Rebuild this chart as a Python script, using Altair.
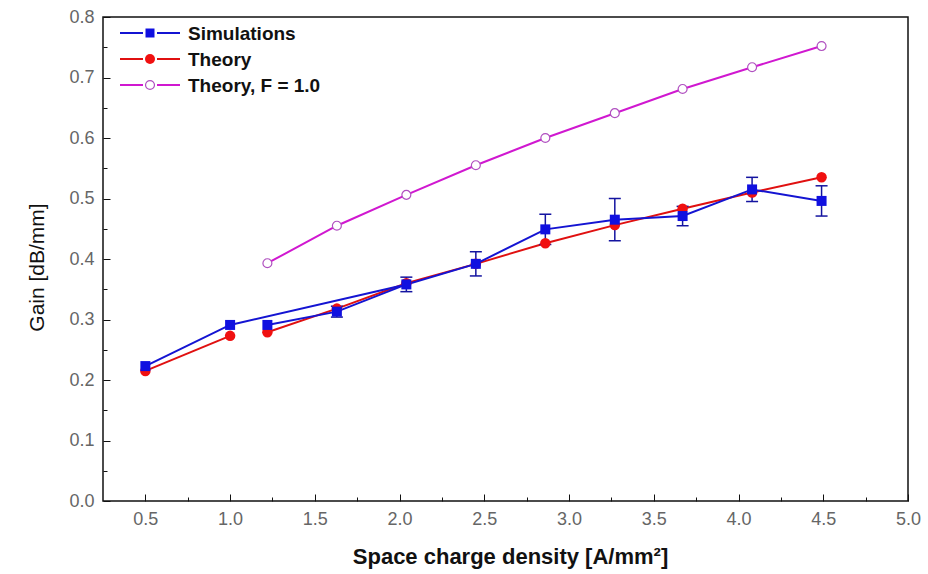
import altair as alt
import pandas as pd

# ---- data ----
x_points = [0.5, 1.0, 1.22, 1.63, 2.04, 2.45, 2.86, 3.27, 3.67, 4.08, 4.49]
sim_gain = [0.223, 0.291, 0.291, 0.313, 0.358, 0.392, 0.449, 0.465, 0.471, 0.515, 0.496]
sim_err = [None, None, None, 0.009, 0.012, 0.020, 0.025, 0.035, 0.016, 0.020, 0.025]
theory_gain = [0.215, 0.273, 0.279, 0.318, 0.360, 0.392, 0.426, 0.456, 0.483, 0.510, 0.535]
f1_x = [1.22, 1.63, 2.04, 2.45, 2.86, 3.27, 3.67, 4.08, 4.49]
f1_gain = [0.393, 0.455, 0.506, 0.555, 0.600, 0.641, 0.681, 0.717, 0.752]

# connection order of the plotted curves (indices into x_points)
sim_paths = [[0, 1, 4, 5, 6, 7, 8, 9, 10], [2, 3, 4]]
theory_paths = [[0, 1], [2, 3, 4, 5, 6, 7, 8, 9, 10]]

series_names = ["Simulations", "Theory", "Theory, F = 1.0"]
series_colors = ["#1414d2", "#e01010", "#d018d0"]

x_major = [0.5, 1.0, 1.5, 2.0, 2.5, 3.0, 3.5, 4.0, 4.5, 5.0]
x_minor = [0.75, 1.25, 1.75, 2.25, 2.75, 3.25, 3.75, 4.25, 4.75]
y_major = [0.0, 0.1, 0.2, 0.3, 0.4, 0.5, 0.6, 0.7, 0.8]
y_minor = [0.05, 0.15, 0.25, 0.35, 0.45, 0.55, 0.65, 0.75]

# ---- tables ----
line_rows = []
for pid, path in enumerate(sim_paths):
    for k, i in enumerate(path):
        line_rows.append({"series": "Simulations", "path": f"s{pid}", "order": k,
                          "x": x_points[i], "y": sim_gain[i]})
for pid, path in enumerate(theory_paths):
    for k, i in enumerate(path):
        line_rows.append({"series": "Theory", "path": f"t{pid}", "order": k,
                          "x": x_points[i], "y": theory_gain[i]})
for k, (xv, yv) in enumerate(zip(f1_x, f1_gain)):
    line_rows.append({"series": "Theory, F = 1.0", "path": "f0", "order": k, "x": xv, "y": yv})
lines_df = pd.DataFrame(line_rows)

sim_df = pd.DataFrame({"x": x_points, "y": sim_gain})
th_df = pd.DataFrame({"x": x_points, "y": theory_gain})
f1_df = pd.DataFrame({"x": f1_x, "y": f1_gain})
err_df = pd.DataFrame([
    {"x": xv, "lo": yv - e, "hi": yv + e}
    for xv, yv, e in zip(x_points, sim_gain, sim_err) if e is not None
])
legend_df = pd.DataFrame({"series": series_names})

xs = alt.Scale(domain=[0.25, 5.0], nice=False, zero=False)
ys = alt.Scale(domain=[0.0, 0.8], nice=False, zero=False)
FONT = "Liberation Sans"

ax_x_labels = alt.Axis(values=x_major, format=".1f", ticks=False, domain=False, grid=False,
                       labelFont=FONT, labelFontSize=18, labelColor="#666666", labelPadding=9,
                       labelFlush=False, labelOverlap=False, orient="bottom",
                       titleFont=FONT, titleFontSize=22, titleFontWeight="bold", titleColor="#111111",
                       titleX=407, titleY=55, titleBaseline="middle")
ax_y_labels = alt.Axis(values=y_major, format=".1f", ticks=False, domain=False, grid=False,
                       labelFont=FONT, labelFontSize=18, labelColor="#666666", labelPadding=9,
                       labelOverlap=False, orient="left",
                       titleFont=FONT, titleFontSize=21, titleFontWeight="normal", titleColor="#111111",
                       titleX=-66, titleY=250, titleBaseline="middle")
ax_x_major = alt.Axis(values=x_major, labels=False, domain=False, grid=False, ticks=True,
                      tickSize=7, offset=-7, tickColor="#111111", tickWidth=1, orient="bottom")
ax_y_major = alt.Axis(values=y_major, labels=False, domain=False, grid=False, ticks=True,
                      tickSize=7, offset=-7, tickColor="#111111", tickWidth=1, orient="left")
ax_x_minor = alt.Axis(values=x_minor, labels=False, domain=False, grid=False, ticks=True,
                      tickSize=4, offset=-4, tickColor="#111111", tickWidth=1, orient="bottom")
ax_y_minor = alt.Axis(values=y_minor, labels=False, domain=False, grid=False, ticks=True,
                      tickSize=4, offset=-4, tickColor="#111111", tickWidth=1, orient="left")

color_scale = alt.Scale(domain=series_names, range=series_colors)

f1_line = alt.Chart(lines_df).transform_filter(alt.datum.series == "Theory, F = 1.0").mark_line(strokeWidth=2).encode(
    x=alt.X("x:Q", scale=xs, axis=ax_x_labels, title="Space charge density [A/mm²]"),
    y=alt.Y("y:Q", scale=ys, axis=ax_y_labels, title="Gain [dB/mm]"),
    color=alt.Color("series:N", scale=color_scale, legend=None),
    detail="path:N",
    order="order:Q",
)
th_line = alt.Chart(lines_df).transform_filter(alt.datum.series == "Theory").mark_line(strokeWidth=2).encode(
    x=alt.X("x:Q", scale=xs, axis=ax_x_major, title=None),
    y=alt.Y("y:Q", scale=ys, axis=ax_y_major, title=None),
    color=alt.Color("series:N", scale=color_scale, legend=None),
    detail="path:N",
    order="order:Q",
)
sim_line = alt.Chart(lines_df).transform_filter(alt.datum.series == "Simulations").mark_line(strokeWidth=2).encode(
    x=alt.X("x:Q", scale=xs, axis=ax_x_minor, title=None),
    y=alt.Y("y:Q", scale=ys, axis=ax_y_minor, title=None),
    color=alt.Color("series:N", scale=color_scale, legend=None),
    detail="path:N",
    order="order:Q",
)

PINK_EDGE = "#b050c0"
f1_pts = alt.Chart(f1_df).mark_point(shape="circle", size=80, filled=False, fill="#ffffff",
                                     stroke=PINK_EDGE, strokeWidth=1.2, opacity=1).encode(
    x=alt.X("x:Q", scale=xs, axis=None), y=alt.Y("y:Q", scale=ys, axis=None))
err_rule = alt.Chart(err_df).mark_rule(color="#1414a0", strokeWidth=1.5).encode(
    x=alt.X("x:Q", scale=xs, axis=None), y=alt.Y("lo:Q", scale=ys, axis=None), y2="hi:Q")
err_lo = alt.Chart(err_df).mark_tick(orient="horizontal", size=12, thickness=1.5, color="#1414a0", opacity=1).encode(
    x=alt.X("x:Q", scale=xs, axis=None), y=alt.Y("lo:Q", scale=ys, axis=None))
err_hi = alt.Chart(err_df).mark_tick(orient="horizontal", size=12, thickness=1.5, color="#1414a0", opacity=1).encode(
    x=alt.X("x:Q", scale=xs, axis=None), y=alt.Y("hi:Q", scale=ys, axis=None))
th_pts = alt.Chart(th_df).mark_circle(size=110, color="#f01010", opacity=1).encode(
    x=alt.X("x:Q", scale=xs, axis=None), y=alt.Y("y:Q", scale=ys, axis=None))
sim_pts = alt.Chart(sim_df).mark_square(size=100, color="#1010e0", opacity=1).encode(
    x=alt.X("x:Q", scale=xs, axis=None), y=alt.Y("y:Q", scale=ys, axis=None))

# ---- legend box (top-left, inside the frame) ----
LEG_ROW0, LEG_STEP = 16, 26
LEG_LINE = (17, 40, 54, 77)
LEG_MARK_X, LEG_TEXT_X = 47, 85
legend_layers = []
for i, name in enumerate(series_names):
    ypix = LEG_ROW0 + LEG_STEP * i
    base = alt.Chart(legend_df).transform_filter(alt.datum.series == name)
    for xa, xb in [(LEG_LINE[0], LEG_LINE[1]), (LEG_LINE[2], LEG_LINE[3])]:
        legend_layers.append(base.mark_rule(color=series_colors[i], strokeWidth=2).encode(
            x=alt.value(xa), x2=alt.value(xb), y=alt.value(ypix)))
    if i == 0:
        mk = base.mark_square(size=81, color="#1010e0", opacity=1)
    elif i == 1:
        mk = base.mark_circle(size=100, color="#f01010", opacity=1)
    else:
        mk = base.mark_point(shape="circle", size=80, filled=False, fill="#ffffff",
                             stroke=PINK_EDGE, strokeWidth=1.2, opacity=1)
    legend_layers.append(mk.encode(x=alt.value(LEG_MARK_X), y=alt.value(ypix)))
    legend_layers.append(base.mark_text(align="left", baseline="middle", font=FONT, fontSize=19,
                                        fontWeight="bold", color="#111111").encode(
        x=alt.value(LEG_TEXT_X), y=alt.value(ypix + 1), text="series:N"))

chart = alt.layer(
    f1_line, f1_pts, th_line, sim_line, err_rule, err_lo, err_hi, th_pts, sim_pts, *legend_layers
).resolve_axis(x="independent", y="independent").properties(
    width=805, height=484,
    padding={"left": 103, "top": 17, "right": 20, "bottom": 73},
    autosize=alt.AutoSizeParams(type="none"),
    background="white",
).configure_view(
    stroke="#111111", strokeWidth=1.5
)

chart.save("out.html", embed_options={"renderer": "svg", "actions": False})
